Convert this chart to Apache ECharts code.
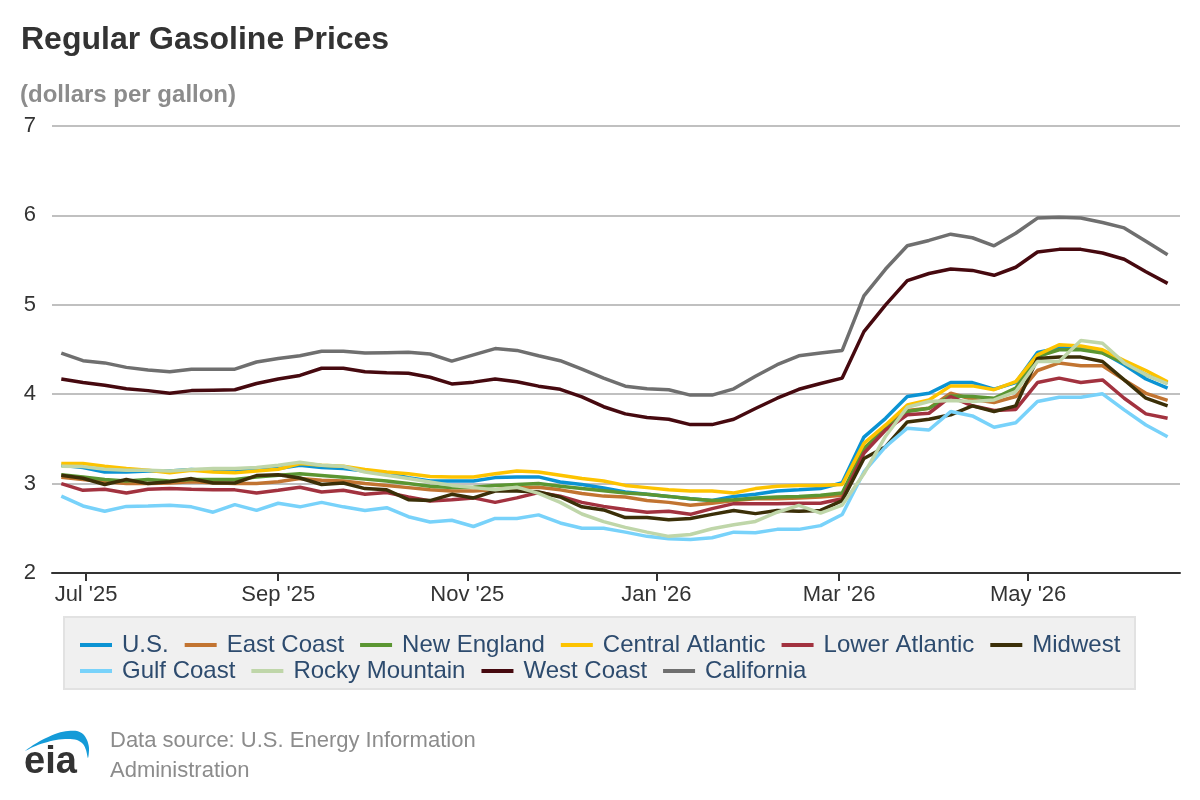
<!DOCTYPE html>
<html>
<head>
<meta charset="utf-8">
<script src="https://cdn.jsdelivr.net/npm/echarts@6/dist/echarts.min.js"></script>
<style>
html,body{margin:0;padding:0;background:#fff;}
#chart{width:1200px;height:800px;}
</style>
</head>
<body>
<div id="chart"></div>
<script>
const weeks = ['2025-06-23','2025-06-30','2025-07-07','2025-07-14','2025-07-21','2025-07-28','2025-08-04','2025-08-11','2025-08-18','2025-08-25',
'2025-09-01','2025-09-08','2025-09-15','2025-09-22','2025-09-29','2025-10-06','2025-10-13','2025-10-20','2025-10-27','2025-11-03',
'2025-11-10','2025-11-17','2025-11-24','2025-12-01','2025-12-08','2025-12-15','2025-12-22','2025-12-29','2026-01-05','2026-01-12',
'2026-01-19','2026-01-26','2026-02-02','2026-02-09','2026-02-16','2026-02-23','2026-03-02','2026-03-09','2026-03-16','2026-03-23',
'2026-03-30','2026-04-06','2026-04-13','2026-04-20','2026-04-27','2026-05-04','2026-05-11','2026-05-18','2026-05-25','2026-06-01',
'2026-06-08','2026-06-15'];

const tickMonths = ['2025-07-01','2025-09-01','2025-11-01','2026-01-01','2026-03-01','2026-05-01'];

const usValues = [3.205,3.18,3.13,3.13,3.14,3.14,3.157,3.14,3.14,3.15,3.168,3.205,3.18,3.168,3.14,3.12,3.067,3.03,3.03,3.03,3.067,3.075,3.075,3.018,2.99,2.95,2.906,2.88,2.857,2.83,2.81,2.857,2.88,2.917,2.93,2.944,3.01,3.52,3.73,3.974,4.01,4.13,4.13,4.056,4.13,4.467,4.516,4.516,4.467,4.33,4.17,4.067];
const eastCoast = [3.07,3.045,3.02,3.00,3.00,3.007,3.02,3.01,3.00,3.00,3.02,3.056,3.037,3.03,3.00,2.98,2.955,2.93,2.917,2.917,2.93,2.955,2.96,2.93,2.89,2.86,2.85,2.81,2.79,2.757,2.78,2.81,2.83,2.83,2.84,2.85,2.87,3.376,3.637,3.817,3.843,4.01,3.944,3.907,3.974,4.265,4.35,4.318,4.318,4.16,4.01,3.93];
const newEngland = [3.10,3.075,3.045,3.03,3.045,3.03,3.045,3.045,3.045,3.075,3.093,3.11,3.09,3.07,3.05,3.03,3.00,2.97,2.955,2.96,2.98,2.99,3.00,2.97,2.944,2.92,2.895,2.88,2.857,2.83,2.81,2.82,2.84,2.85,2.857,2.87,2.895,3.395,3.61,3.806,3.843,3.98,3.974,3.955,4.067,4.42,4.497,4.497,4.46,4.35,4.217,4.123];
const centralAtlantic = [3.224,3.224,3.194,3.168,3.15,3.12,3.15,3.13,3.12,3.14,3.16,3.224,3.205,3.194,3.157,3.13,3.11,3.08,3.075,3.075,3.11,3.14,3.13,3.093,3.056,3.03,2.98,2.955,2.93,2.917,2.917,2.895,2.944,2.97,2.98,2.98,2.99,3.45,3.656,3.88,3.936,4.093,4.093,4.05,4.14,4.44,4.553,4.54,4.497,4.377,4.265,4.14];
const lowerAtlantic = [3.00,2.925,2.936,2.895,2.936,2.944,2.936,2.93,2.93,2.895,2.925,2.96,2.906,2.925,2.88,2.90,2.85,2.805,2.82,2.84,2.79,2.84,2.90,2.86,2.79,2.745,2.71,2.68,2.69,2.656,2.72,2.776,2.776,2.776,2.78,2.78,2.83,3.34,3.60,3.77,3.787,3.974,3.87,3.817,3.83,4.13,4.18,4.13,4.16,3.955,3.78,3.73];
const midwest = [3.093,3.06,2.99,3.045,3.00,3.02,3.056,3.007,3.007,3.09,3.10,3.063,2.99,3.007,2.944,2.93,2.82,2.81,2.88,2.84,2.917,2.917,2.906,2.85,2.74,2.705,2.62,2.62,2.596,2.61,2.656,2.70,2.664,2.70,2.69,2.70,2.81,3.28,3.413,3.69,3.72,3.77,3.87,3.806,3.87,4.40,4.415,4.415,4.366,4.16,3.955,3.87];
const gulfCoast = [2.86,2.75,2.69,2.745,2.75,2.757,2.74,2.68,2.765,2.70,2.78,2.74,2.79,2.74,2.70,2.73,2.63,2.57,2.59,2.52,2.61,2.61,2.65,2.56,2.50,2.50,2.457,2.41,2.383,2.376,2.395,2.457,2.45,2.488,2.488,2.53,2.655,3.13,3.413,3.62,3.60,3.806,3.757,3.63,3.68,3.918,3.966,3.966,4.004,3.824,3.656,3.525];
const rockyMountain = [3.194,3.19,3.16,3.15,3.15,3.14,3.157,3.17,3.17,3.18,3.205,3.24,3.205,3.194,3.13,3.093,3.056,3.018,2.98,2.955,2.93,2.96,2.89,2.79,2.66,2.575,2.51,2.457,2.41,2.43,2.495,2.54,2.577,2.68,2.757,2.67,2.76,3.11,3.53,3.854,3.918,3.93,3.918,3.936,4.03,4.366,4.366,4.60,4.57,4.35,4.217,4.116];
const westCoast = [4.17,4.13,4.10,4.06,4.04,4.01,4.04,4.045,4.05,4.12,4.17,4.21,4.29,4.29,4.25,4.24,4.235,4.19,4.115,4.135,4.17,4.14,4.09,4.055,3.97,3.86,3.78,3.74,3.72,3.66,3.66,3.72,3.84,3.955,4.055,4.12,4.18,4.70,5.00,5.27,5.35,5.40,5.385,5.33,5.42,5.59,5.62,5.62,5.58,5.51,5.37,5.24];
const california = [4.46,4.375,4.35,4.30,4.27,4.25,4.28,4.28,4.28,4.36,4.40,4.43,4.48,4.48,4.46,4.465,4.47,4.45,4.37,4.44,4.51,4.49,4.43,4.375,4.28,4.18,4.09,4.06,4.05,3.99,3.99,4.06,4.20,4.33,4.43,4.46,4.49,5.10,5.40,5.66,5.72,5.79,5.75,5.66,5.80,5.97,5.98,5.97,5.92,5.86,5.71,5.56];

const seriesNames = ['U.S.','East Coast','New England','Central Atlantic','Lower Atlantic','Midwest','Gulf Coast','Rocky Mountain','West Coast','California'];
const seriesValues = [usValues,eastCoast,newEngland,centralAtlantic,lowerAtlantic,midwest,gulfCoast,rockyMountain,westCoast,california];
const seriesColors = ['#0b93d3','#c27431','#5b9632','#fdc300','#a2323f','#3b2f08','#78d2fa','#bfd6a9','#46090f','#6f6f6f'];
const monthNames = ['Jan','Feb','Mar','Apr','May','Jun','Jul','Aug','Sep','Oct','Nov','Dec'];

function ts(s){ const p = s.split('-').map(Number); return Date.UTC(p[0], p[1]-1, p[2]); }

const FONT = '"Liberation Sans", Arial, Helvetica, sans-serif';
const chart = echarts.init(document.getElementById('chart'), null, {renderer:'canvas'});

const series = seriesNames.map((n,k)=>({
  name:n, type:'line', showSymbol:false, symbol:'none',
  data: weeks.map((w,i)=>[ts(w), seriesValues[k][i]]),
  lineStyle:{width:3.5, color:seriesColors[k]},
  itemStyle:{color:seriesColors[k]},
  emphasis:{disabled:true},
  z: 2+k
}));

const legendCommon = {
  icon:'rect', itemWidth:32, itemHeight:4, itemGap:16, padding:0,
  textStyle:{fontSize:24, color:'#2d4b6e', fontFamily:FONT, padding:[0,0,0,5]},
  selectedMode:false, orient:'horizontal'
};

const swoosh = [[25,751],[35,744],[46,738],[58,733],[68,731],[77,731],[83,734],[87,740],[89,748],[88,758],
  [86,750],[83,744],[77,740],[68,739],[56,740],[44,743],[33,747]];

chart.setOption({
  animation:false,
  backgroundColor:'#ffffff',
  textStyle:{fontFamily:FONT},
  grid:{left:52, right:20, top:126, bottom:227, containLabel:false},
  xAxis:{
    type:'value',
    min: ts('2025-06-20'), max: ts('2026-06-19'),
    axisLine:{show:true, onZero:false, lineStyle:{color:'#333', width:2}},
    axisTick:{show:true, length:8, lineStyle:{color:'#333', width:2}, customValues: tickMonths.map(ts)},
    axisLabel:{fontSize:22, color:'#333', margin:11, fontFamily:FONT, customValues: tickMonths.map(ts),
      formatter:function(v){ const d=new Date(v); return monthNames[d.getUTCMonth()] + " '" + String(d.getUTCFullYear()).slice(2); }},
    splitLine:{show:false}
  },
  yAxis:{
    type:'value', min:2, max:7, interval:1,
    axisLine:{show:false}, axisTick:{show:false},
    axisLabel:{fontSize:22, color:'#333', margin:16, fontFamily:FONT},
    splitLine:{show:true, lineStyle:{color:'#c0c0c0', width:2}}
  },
  legend:[
    Object.assign({}, legendCommon, {left:80, top:633, data:seriesNames.slice(0,6)}),
    Object.assign({}, legendCommon, {left:80, top:659, data:seriesNames.slice(6)})
  ],
  graphic:[
    {type:'text', x:21, y:40, style:{text:'Regular Gasoline Prices', font:'bold 32px '+FONT, fill:'#333', textVerticalAlign:'middle'}},
    {type:'text', x:20, y:95, style:{text:'(dollars per gallon)', font:'bold 24px '+FONT, fill:'#8c8c8c', textVerticalAlign:'middle'}},
    {type:'rect', shape:{x:64, y:617, width:1071, height:72}, style:{fill:'#f0f0f0', stroke:'#e2e2e2', lineWidth:2}, z:-1},
    {type:'text', x:110, y:741, style:{text:'Data source: U.S. Energy Information', font:'22px '+FONT, fill:'#8c8c8c', textVerticalAlign:'middle'}},
    {type:'text', x:110, y:771, style:{text:'Administration', font:'22px '+FONT, fill:'#8c8c8c', textVerticalAlign:'middle'}},
    {type:'text', x:24, y:763, style:{text:'eia', font:'bold 38px '+FONT, fill:'#333', textVerticalAlign:'middle'}},
    {type:'polygon', shape:{points:swoosh, smooth:0.3}, style:{fill:'#149bd8'}}
  ],
  series: series
});
</script>
</body>
</html>
